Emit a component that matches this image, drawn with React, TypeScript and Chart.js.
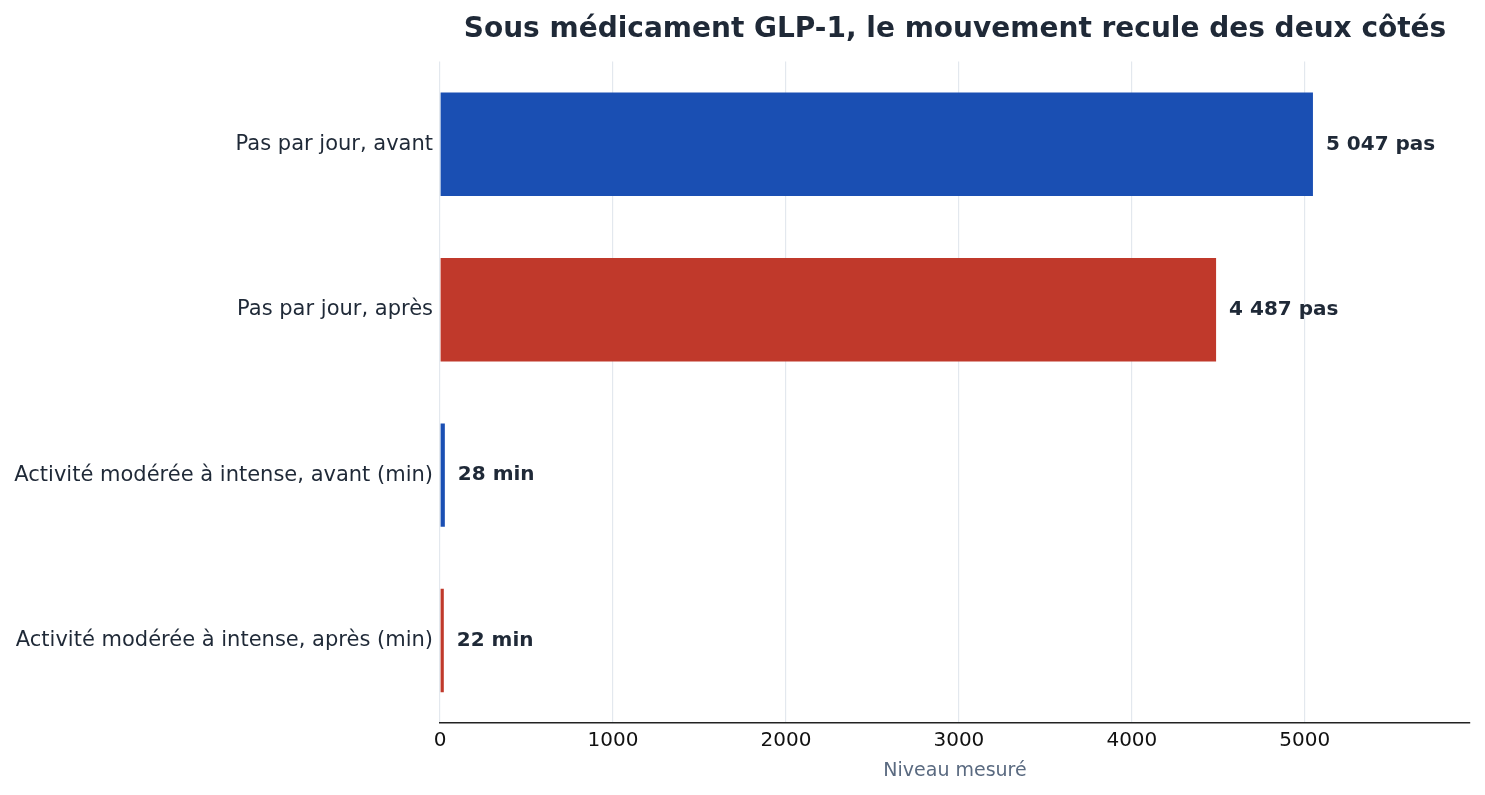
import { useEffect, useRef } from 'react';
import { Chart, registerables } from 'chart.js';

Chart.register(...registerables);

const categories = [
    'Pas par jour, avant',
    'Pas par jour, après',
    'Activité modérée à intense, avant (min)',
    'Activité modérée à intense, après (min)',
];
const values = [5047, 4487, 28, 22];
const valueLabels = ['5 047 pas', '4 487 pas', '28 min', '22 min'];
const barColors = ['#1a4fb3', '#c0392b', '#1a4fb3', '#c0392b'];
const tickValues = [0, 1000, 2000, 3000, 4000, 5000];

const FONT = 'DejaVu Sans';

const valueLabelPlugin = {
    id: 'valueLabels',
    afterDatasetsDraw(chart) {
        const ctx = chart.ctx;
        const meta = chart.getDatasetMeta(0);
        ctx.save();
        ctx.font = `bold 20px "${FONT}"`;
        ctx.fillStyle = '#1f2937';
        ctx.textAlign = 'left';
        ctx.textBaseline = 'middle';
        meta.data.forEach((bar, i) => {
            ctx.fillText(valueLabels[i], bar.x + 13, bar.y);
        });
        ctx.restore();
    },
};

export default function App() {
    const chartRef = useRef(null);

    useEffect(() => {
        const myChart = new Chart(chartRef.current, {
            type: 'bar',
            data: {
                labels: categories,
                datasets: [{
                    data: values,
                    backgroundColor: barColors,
                    borderWidth: 0,
                    barPercentage: 0.625,
                    categoryPercentage: 1,
                }],
            },
            options: {
                indexAxis: 'y',
                animation: false,
                responsive: true,
                maintainAspectRatio: false,
                layout: { padding: { left: 0, right: 7, top: 0, bottom: 5 } },
                plugins: {
                    legend: { display: false },
                    tooltip: { enabled: false },
                    title: {
                        display: true,
                        fullSize: false,
                        text: 'Sous médicament GLP-1, le mouvement recule des deux côtés',
                        color: '#1f2937',
                        font: { family: FONT, size: 28, weight: 'bold' },
                        padding: { top: 5, bottom: 15 },
                    },
                },
                scales: {
                    x: {
                        min: 0,
                        max: 5955,
                        afterBuildTicks(scale) {
                            scale.ticks = tickValues.map((v) => ({ value: v }));
                        },
                        ticks: {
                            color: '#111111',
                            font: { family: FONT, size: 20 },
                            padding: 6,
                            callback: (v) => String(v),
                        },
                        grid: {
                            color: '#e3e8ee',
                            lineWidth: 1.2,
                            drawTicks: false,
                        },
                        border: { display: true, color: '#222222', width: 1.6 },
                        title: {
                            display: true,
                            text: 'Niveau mesuré',
                            color: '#5a6a80',
                            font: { family: FONT, size: 19 },
                            padding: { top: 0, bottom: 0 },
                        },
                    },
                    y: {
                        afterFit(scale) {
                            scale.width = 432;
                        },
                        ticks: {
                            color: '#1f2937',
                            font: { family: FONT, size: 21 },
                            padding: 7,
                        },
                        grid: { display: false, drawTicks: false },
                        border: { display: false },
                    },
                },
            },
            plugins: [valueLabelPlugin],
        });

        return () => {
            myChart.destroy();
        };
    }, []);

    return (
        <div style={{ position: 'relative', width: '100%', height: '779px' }}>
            <canvas ref={chartRef}></canvas>
        </div>
    );
}
